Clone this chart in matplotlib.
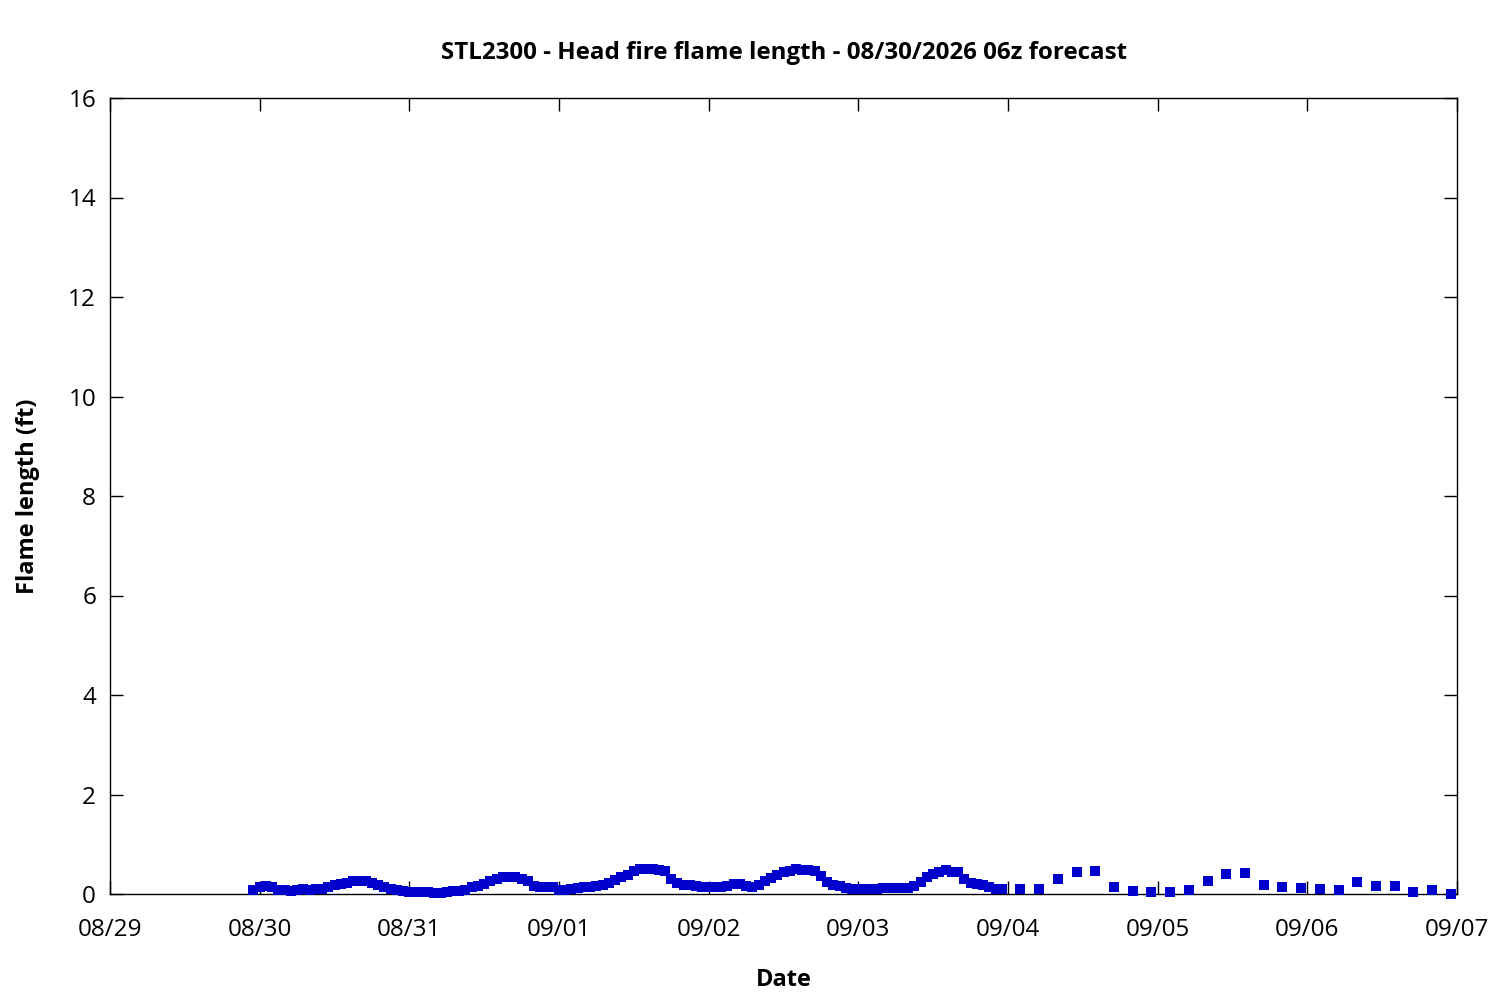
import numpy as np
import pandas as pd
import matplotlib
matplotlib.use("Agg")
import matplotlib.pyplot as plt
import matplotlib.dates as mdates

plt.rcParams['font.family'] = ['Open Sans', 'Noto Sans', 'DejaVu Sans']

# Hourly forecast, 08/29 23:00 through 09/03 23:00
hourly_start = "2026-08-29 23:00"
hourly_flame = [
    0.08, 0.15, 0.17, 0.15, 0.08, 0.09, 0.07, 0.09, 0.11, 0.09, 0.11, 0.10,
    0.15, 0.18, 0.21, 0.23, 0.26, 0.27, 0.26, 0.22, 0.19, 0.14, 0.11, 0.09,
    0.06, 0.05, 0.05, 0.05, 0.05, 0.03, 0.03, 0.05, 0.07, 0.07, 0.09, 0.14,
    0.17, 0.21, 0.26, 0.31, 0.34, 0.35, 0.34, 0.31, 0.27, 0.17, 0.15, 0.14,
    0.15, 0.09, 0.09, 0.11, 0.13, 0.14, 0.15, 0.16, 0.18, 0.23, 0.28, 0.35,
    0.39, 0.47, 0.51, 0.51, 0.51, 0.49, 0.46, 0.31, 0.22, 0.19, 0.19, 0.17,
    0.15, 0.14, 0.14, 0.15, 0.17, 0.21, 0.21, 0.17, 0.14, 0.19, 0.27, 0.33,
    0.39, 0.44, 0.47, 0.50, 0.49, 0.49, 0.46, 0.37, 0.24, 0.19, 0.16, 0.13,
    0.11, 0.11, 0.11, 0.11, 0.11, 0.12, 0.12, 0.12, 0.12, 0.13, 0.17, 0.25,
    0.35, 0.41, 0.45, 0.48, 0.45, 0.44, 0.30, 0.23, 0.21, 0.18, 0.14, 0.11,
    0.11,
]

# 3-hourly forecast, 09/04 02:00 through 09/06 23:00
three_hourly_start = "2026-09-04 02:00"
three_hourly_flame = [
    0.11, 0.11, 0.31, 0.44, 0.46, 0.15, 0.07, 0.05,
    0.05, 0.09, 0.27, 0.40, 0.42, 0.19, 0.15, 0.13,
    0.11, 0.09, 0.25, 0.17, 0.17, 0.05, 0.08, 0.00,
]

t1 = pd.date_range(hourly_start, periods=len(hourly_flame), freq="h")
t3 = pd.date_range(three_hourly_start, periods=len(three_hourly_flame), freq="3h")
times = t1.append(t3)
flame = hourly_flame + three_hourly_flame

fig = plt.figure(figsize=(15, 10), dpi=100)
ax = fig.add_axes([110 / 1500, 1 - 894 / 1000, 1347 / 1500, 796 / 1000])

ax.plot(times, flame, linestyle="none", marker="s", markersize=6.5,
        color="#0000cc", markeredgewidth=0, clip_on=False, zorder=3)

ax.set_xlim(pd.Timestamp("2026-08-29"), pd.Timestamp("2026-09-07"))
ax.set_ylim(0, 16)
ax.set_yticks(np.arange(0, 17, 2))
ax.xaxis.set_major_locator(mdates.DayLocator())
ax.xaxis.set_major_formatter(mdates.DateFormatter("%m/%d"))

ax.tick_params(direction="in", length=9.5, width=1, top=True, right=True,
               labelsize=17.5)
ax.tick_params(axis="x", pad=17)
ax.tick_params(axis="y", pad=10)
for s in ax.spines.values():
    s.set_linewidth(1)

ax.set_xlabel("Date", fontsize=17, fontweight="bold", va="center")
ax.xaxis.set_label_coords(0.5, (894 - 980) / 796)
ax.set_ylabel("Flame length (ft)", fontsize=17, fontweight="bold", va="center")
ax.yaxis.set_label_coords((28 - 110) / 1347, 0.5)

fig.text(784 / 1500, 1 - 53 / 1000,
         "STL2300 - Head fire flame length - 08/30/2026 06z forecast",
         ha="center", va="center", fontsize=17.4, fontweight="bold")

fig.savefig("out.png", dpi=100)
